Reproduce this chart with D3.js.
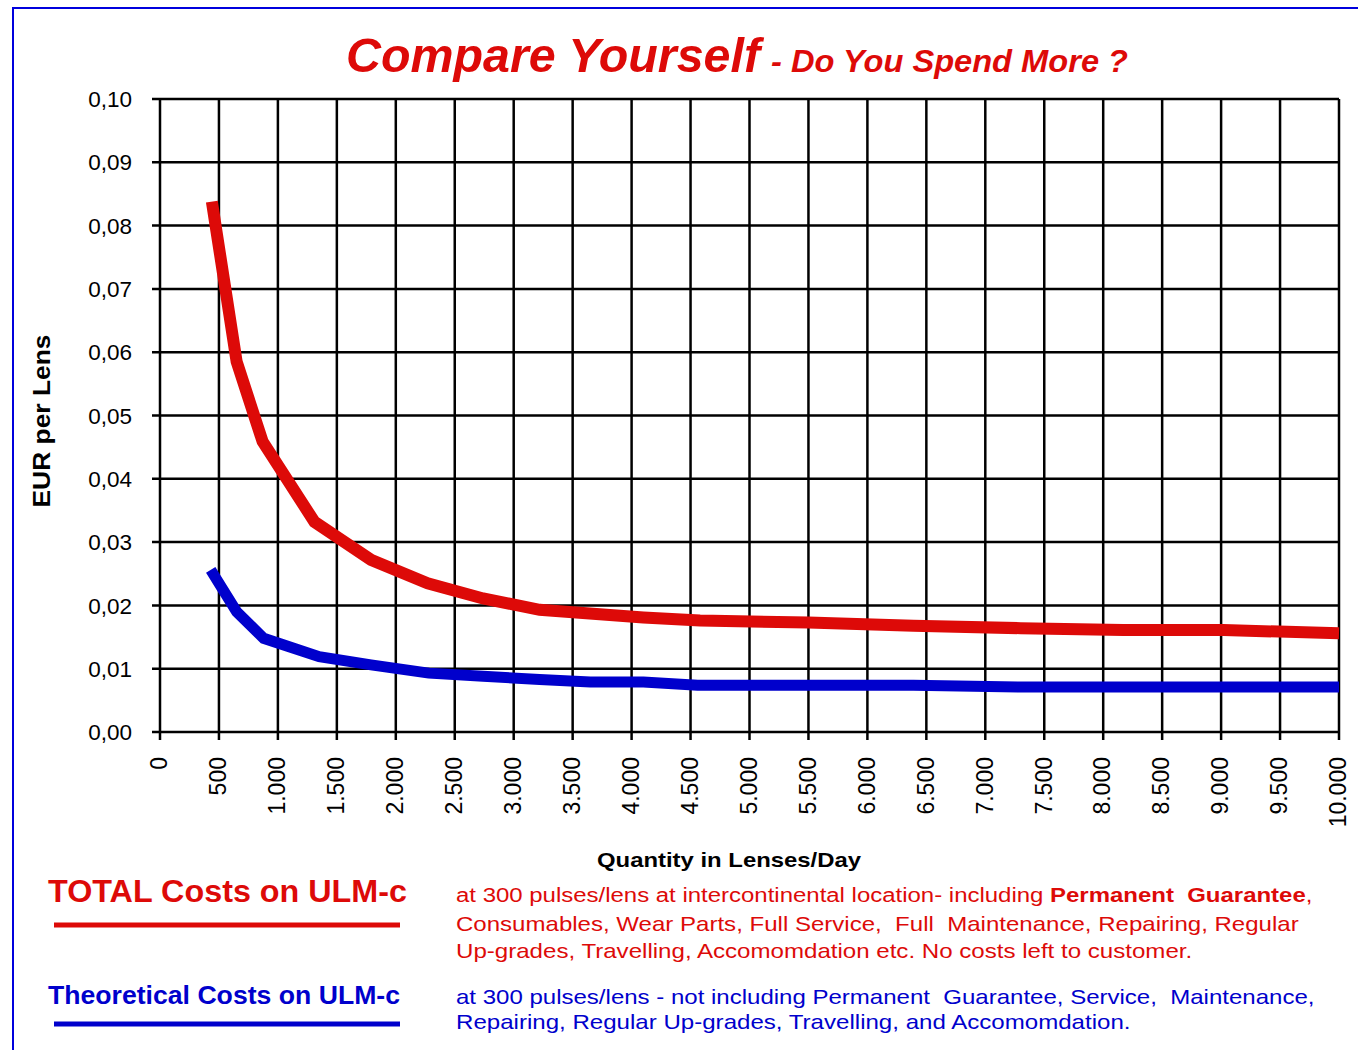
<html>
  <head>
    <meta charset="utf-8">
    <script src="https://d3js.org/d3.v7.min.js"></script>
    <style>
      body { margin: 0; background: #fff; }
      text { font-family: "Liberation Sans", Arial, sans-serif; }
    </style>
  </head>
  <body>
    <div id="chart"></div>
  </body>

  <script>
    // values
    const qtyTotal  = [440, 650, 870, 1310, 1790, 2270, 2740, 3220, 4100, 4580, 5500, 6390, 7300, 8170, 9020, 10000];
    const costTotal = [0.0838, 0.0585, 0.0459, 0.0332, 0.0272, 0.0235, 0.0211, 0.0193, 0.0181, 0.0176, 0.0173, 0.0168, 0.0164, 0.0161, 0.0161, 0.0156];

    const qtyTheo  = [430, 650, 880, 1350, 1790, 2280, 2740, 3220, 3650, 4100, 4560, 6390, 7300, 10000];
    const costTheo = [0.0256, 0.0190, 0.0148, 0.0119, 0.0106, 0.0093, 0.0088, 0.0083, 0.0079, 0.0079, 0.0074, 0.0074, 0.0071, 0.0071];

    const xTicks = d3.range(0, 10001, 500);
    const yTicks = d3.range(0, 0.1001, 0.01);

    const titleMain = "Compare Yourself";
    const titleSub = " - Do You Spend More ?";
    const yTitle = "EUR per Lens";
    const xTitle = "Quantity in Lenses/Day";
    const legendTotal = "TOTAL Costs on ULM-c";
    const legendTheo = "Theoretical Costs on ULM-c";
    // every odd part of a line is bold
    const noteTotal = [
      ["at 300 pulses/lens at intercontinental location- including ", "Permanent  Guarantee", ","],
      ["Consumables, Wear Parts, Full Service,  Full  Maintenance, Repairing, Regular"],
      ["Up-grades, Travelling, Accomomdation etc. No costs left to customer."]
    ];
    const noteTheo = [
      ["at 300 pulses/lens - not including Permanent  Guarantee, Service,  Maintenance,"],
      ["Repairing, Regular Up-grades, Travelling, and Accomomdation."]
    ];

    const RED = "#dd0a08", BLUE = "#0000cc";
    const W = 1358, H = 1050;

    const svg = d3.select("#chart")
      .append("svg")
        .attr("width", W)
        .attr("height", H)
        .attr("font-family", "'Liberation Sans', Arial, sans-serif");

    // frame
    svg.append("path")
      .attr("d", "M13,1050V8H1358")
      .attr("fill", "none")
      .attr("stroke", "#0000dd")
      .attr("stroke-width", 2);

    const loc = d3.formatLocale({decimal: ",", thousands: ".", grouping: [3], currency: ["", " €"]});

    const x = d3.scaleLinear().domain([0, 10000]).range([160, 1339]);
    const y = d3.scaleLinear().domain([0, 0.1]).range([732, 99]);

    // grid
    svg.append("g")
      .selectAll("line")
      .data(xTicks)
      .join("line")
        .attr("x1", d => x(d)).attr("x2", d => x(d))
        .attr("y1", y(0.1)).attr("y2", y(0) + 8)
        .attr("stroke", "#000").attr("stroke-width", 2.5);

    svg.append("g")
      .selectAll("line")
      .data(yTicks)
      .join("line")
        .attr("x1", x(0) - 8).attr("x2", x(10000))
        .attr("y1", d => y(d)).attr("y2", d => y(d))
        .attr("stroke", "#000").attr("stroke-width", 2.5);

    // tick labels
    svg.append("g")
      .selectAll("text")
      .data(yTicks)
      .join("text")
        .attr("x", 132)
        .attr("y", d => y(d))
        .attr("dy", "0.36em")
        .attr("text-anchor", "end")
        .attr("font-size", "22.5px")
        .text(loc.format(".2f"));

    svg.append("g")
      .selectAll("text")
      .data(xTicks)
      .join("text")
        .attr("transform", d => `translate(${x(d) - 1},757) rotate(-90)`)
        .attr("dy", "0.36em")
        .attr("text-anchor", "end")
        .attr("font-size", "23px")
        .text(loc.format(",d"));

    // curves
    const line = d3.line().x(d => x(d[0])).y(d => y(d[1]));

    svg.append("path")
      .datum(d3.zip(qtyTheo, costTheo))
      .attr("d", line)
      .attr("fill", "none")
      .attr("stroke", BLUE)
      .attr("stroke-width", 11);

    svg.append("path")
      .datum(d3.zip(qtyTotal, costTotal))
      .attr("d", line)
      .attr("fill", "none")
      .attr("stroke", RED)
      .attr("stroke-width", 12);

    // titles
    svg.append("text")
      .attr("x", 346).attr("y", 72)
      .attr("font-size", "48px")
      .attr("font-weight", "bold")
      .attr("font-style", "italic")
      .attr("fill", RED)
      .attr("textLength", 414)
      .attr("lengthAdjust", "spacingAndGlyphs")
      .text(titleMain);

    svg.append("text")
      .attr("x", 762).attr("y", 72)
      .attr("font-size", "31px")
      .attr("font-weight", "bold")
      .attr("font-style", "italic")
      .attr("fill", RED)
      .style("white-space", "pre")
      .attr("textLength", 366)
      .attr("lengthAdjust", "spacingAndGlyphs")
      .text(titleSub);

    svg.append("text")
      .attr("transform", "translate(50,421) rotate(-90)")
      .attr("text-anchor", "middle")
      .attr("font-size", "23px")
      .attr("font-weight", "bold")
      .attr("textLength", 173)
      .attr("lengthAdjust", "spacingAndGlyphs")
      .text(yTitle);

    svg.append("text")
      .attr("x", 729).attr("y", 867)
      .attr("text-anchor", "middle")
      .attr("font-size", "21px")
      .attr("font-weight", "bold")
      .attr("textLength", 264)
      .attr("lengthAdjust", "spacingAndGlyphs")
      .text(xTitle);

    // legend
    const legend = [
      {label: legendTotal, color: RED, size: 31, len: 359, y: 902, ly: 925},
      {label: legendTheo, color: BLUE, size: 26, len: 352, y: 1004, ly: 1024}
    ];
    legend.forEach(l => {
      svg.append("text")
        .attr("x", 48).attr("y", l.y)
        .attr("font-size", l.size + "px")
        .attr("font-weight", "bold")
        .attr("fill", l.color)
        .attr("textLength", l.len)
        .attr("lengthAdjust", "spacingAndGlyphs")
        .text(l.label);
      svg.append("line")
        .attr("x1", 54).attr("x2", 400)
        .attr("y1", l.ly).attr("y2", l.ly)
        .attr("stroke", l.color)
        .attr("stroke-width", 5);
    });

    // notes: glyphs are stretched sideways in the original, so scale the whole line
    function note(lines, color, ys, lens) {
      lines.forEach((parts, i) => {
        const t = svg.append("text")
          .attr("font-size", "20px")
          .attr("fill", color)
          .style("white-space", "pre");
        parts.forEach((p, j) => {
          t.append("tspan")
            .attr("font-weight", j % 2 ? "bold" : "normal")
            .text(p);
        });
        const w = t.node().getComputedTextLength();
        t.attr("transform", `translate(456,${ys[i]}) scale(${lens[i] / w},1)`);
      });
    }
    note(noteTotal, RED, [902, 931, 958], [857, 843, 737]);
    note(noteTheo, BLUE, [1004, 1029], [859, 675]);
  </script>
</html>
